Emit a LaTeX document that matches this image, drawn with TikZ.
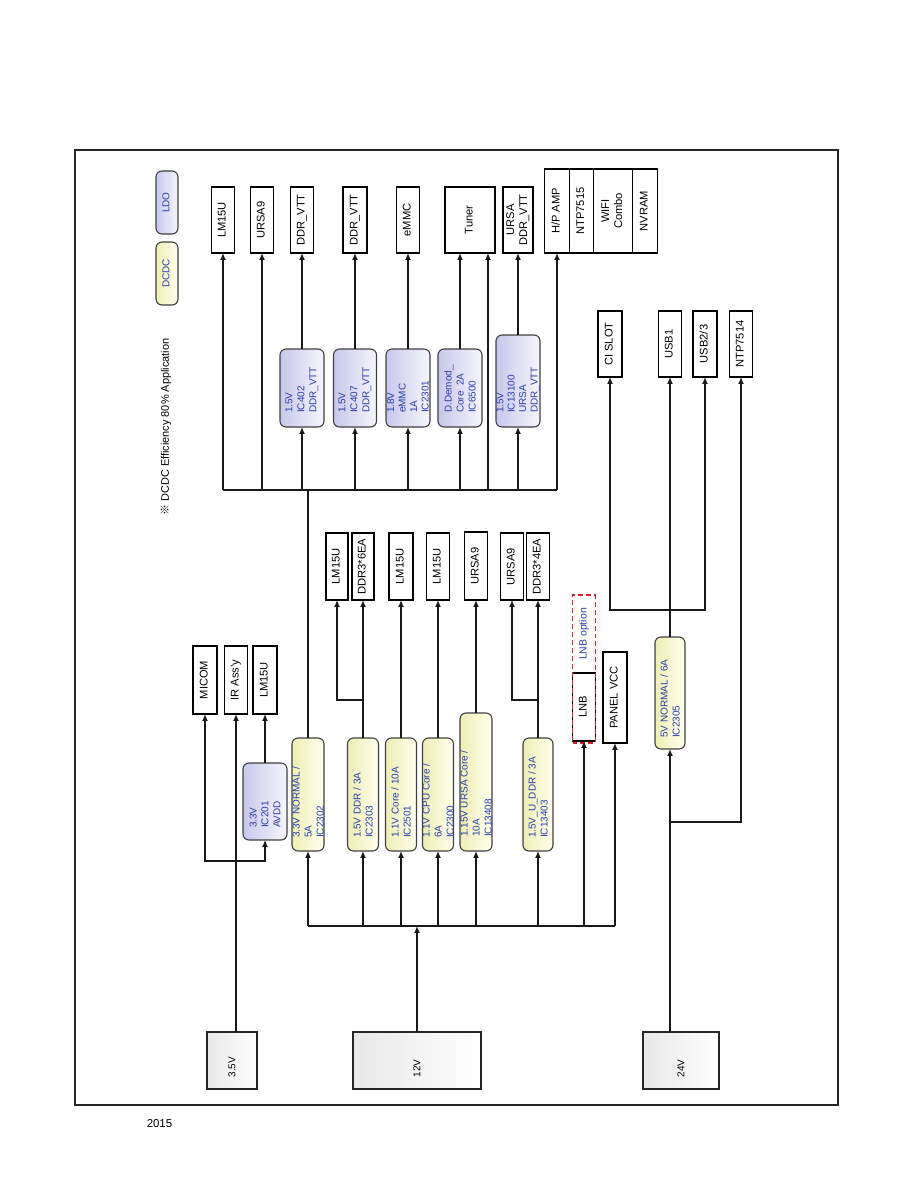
\documentclass[tikz,border=0pt]{standalone}
\usepackage{fontspec}
\setmainfont{Liberation Sans}
\newfontfamily\cjkf{Noto Sans CJK SC}
\usepackage{graphicx}
\usetikzlibrary{arrows.meta}
\definecolor{txtblue}{RGB}{40,60,170}
\definecolor{dcl}{RGB}{238,238,182}
\definecolor{dcr}{RGB}{255,255,238}
\definecolor{ldl}{RGB}{200,200,236}
\definecolor{ldr}{RGB}{246,246,253}
\definecolor{optred}{RGB}{225,30,40}
\newcommand\rt[1]{\makebox[0pt]{\rotatebox{90}{\begin{tabular}{@{}c@{}}#1\end{tabular}}}}
\newcommand\rl[2]{\makebox[0pt]{\rotatebox{90}{\parbox{#1pt}{\raggedright #2}}}}
\tikzset{
  bx/.style={draw=black, line width=1.1bp, fill=white, inner sep=0pt, outer sep=0pt,
    font=\fontsize{11.2}{13}\selectfont},
  dc/.style={draw=black!75, line width=1.1bp, rounded corners=6pt, left color=dcl, right color=dcr,
    inner sep=0pt, outer sep=0pt, text=txtblue, font=\fontsize{10}{12}\selectfont},
  ld/.style={draw=black!75, line width=1.1bp, rounded corners=6pt, left color=ldl, right color=ldr,
    inner sep=0pt, outer sep=0pt, text=txtblue, font=\fontsize{10}{12}\selectfont},
  pw/.style={draw=black!85, line width=2bp, left color=black!9, right color=white,
    inner sep=0pt, outer sep=0pt, font=\fontsize{10}{12}\selectfont},
  optbox/.style={draw=optred, line width=1.6bp, dash pattern=on 5pt off 3pt, inner sep=0pt, outer sep=0pt},
  bluetxt/.style={text=txtblue, font=\fontsize{10.5}{12}\selectfont, inner sep=0pt},
  ln/.style={line width=1.8bp, draw=black!90},
  arr/.style={line width=1.8bp, draw=black!90, -{Latex[length=7pt,width=6pt]}},
  frame/.style={draw=black!85, line width=1.1bp}
}
\begin{document}
\begin{tikzpicture}[x=1bp,y=-1bp]
\useasboundingbox (0,0) rectangle (914,1191);
\draw[frame] (75,150) rectangle (838,1105);
\node[font=\fontsize{11.5}{13}\selectfont, inner sep=0pt] (yr) at (159.5,1124) {2015};

% legend
\node[ld, minimum width=22bp, minimum height=63bp] (lgldo) at (167,202.5) {\rt{LDO}};
\node[dc, minimum width=22bp, minimum height=63bp] (lgdc) at (167,273.5) {\rt{DCDC}};
\node[inner sep=0pt, font=\fontsize{11}{13}\selectfont] (eff) at (166,427)
  {\rotatebox{90}{{\cjkf ※} DCDC Efficiency 80\% Application}};

% top row loads
\node[bx, minimum width=23bp, minimum height=66bp] (t1) at (223,220) {\rt{LM15U}};
\node[bx, minimum width=23bp, minimum height=66bp] (t2) at (262,220) {\rt{URSA9}};
\node[bx, minimum width=23bp, minimum height=66bp] (t3) at (302,220) {\rt{DDR\_VTT}};
\node[bx, minimum width=24bp, minimum height=66bp] (t4) at (355,220) {\rt{DDR\_VTT}};
\node[bx, minimum width=23bp, minimum height=66bp] (t5) at (408,220) {\rt{eMMC}};
\node[bx, minimum width=50bp, minimum height=66bp] (t6) at (470,220) {\rt{Tuner}};
\node[bx, minimum width=30bp, minimum height=66bp] (t7) at (518,220) {\rt{URSA\\DDR\_VTT}};
\node[bx, minimum width=25bp, minimum height=84bp] (hp) at (557,211) {\rt{H/P AMP}};
\node[bx, minimum width=24bp, minimum height=84bp] (ntp5) at (581.5,211) {\rt{NTP7515}};
\node[bx, minimum width=39bp, minimum height=84bp] (wifi) at (613,211) {\rt{WIFI\\Combo}};
\node[bx, minimum width=25bp, minimum height=84bp] (nvram) at (645,211) {\rt{NVRAM}};
\draw[line width=1.8bp] (hp.north west) rectangle (nvram.south east);

% LDO row
\node[ld, minimum width=44bp, minimum height=78bp] (l1) at (302,388) {\rl{50}{1.5V\\IC402\\DDR\_VTT}};
\node[ld, minimum width=43bp, minimum height=78bp] (l2) at (355,388) {\rl{50}{1.5V\\IC407\\DDR\_VTT}};
\node[ld, minimum width=44bp, minimum height=78bp] (l3) at (408,388) {\fontsize{10}{11.5}\selectfont\rl{50}{1.8V\\eMMC\\1A\\IC2301}};
\node[ld, minimum width=44bp, minimum height=78bp] (l4) at (460,388) {\rl{50}{D.Demod\_\\Core~~2A\\IC6500}};
\node[ld, minimum width=44bp, minimum height=92bp] (l5) at (518,381) {\fontsize{10}{11.5}\selectfont\rl{64}{1.5V\\IC13100\\URSA\\DDR\_VTT}};

% left side loads
\node[bx, minimum width=24bp, minimum height=68bp] (m1) at (205,680) {\rt{MICOM}};
\node[bx, minimum width=23bp, minimum height=68bp] (m2) at (236,680) {\rt{IR Ass'y}};
\node[bx, minimum width=24bp, minimum height=68bp] (m3) at (265,680) {\rt{LM15U}};
\node[ld, minimum width=44bp, minimum height=77bp] (ic201) at (265,801.5) {\rl{53}{3.3V\\IC201\\AVDD}};

% DCDC row
\node[dc, minimum width=32bp, minimum height=113bp] (d1) at (308,794.5) {\rl{87}{3.3V NORMAL /\\5A\\IC2302}};
\node[dc, minimum width=31bp, minimum height=113bp] (d2) at (363,794.5) {\rl{87}{1.5V DDR / 3A\\IC2303}};
\node[dc, minimum width=31bp, minimum height=113bp] (d3) at (401,794.5) {\rl{87}{1.1V Core / 10A\\IC2501}};
\node[dc, minimum width=31bp, minimum height=113bp] (d4) at (438,794.5) {\rl{87}{1.1V CPU Core /\\6A\\IC2300}};
\node[dc, minimum width=32bp, minimum height=138bp] (d5) at (476,782) {\rl{110}{1.15V URSA Core /\\10A\\IC13408}};
\node[dc, minimum width=30bp, minimum height=113bp] (d6) at (538,794.5) {\rl{87}{1.5V\_U\_DDR / 3A\\IC13403}};
\node[bx, minimum width=23bp, minimum height=68bp] (lnb) at (584,707) {\rt{LNB}};
\node[bx, minimum width=24bp, minimum height=91bp] (pvcc) at (615,697.5) {\rt{PANEL VCC}};
\node[dc, minimum width=30bp, minimum height=112bp] (d7) at (670,693) {\rl{90}{5V NORMAL / 6A\\IC2305}};
\node[optbox, minimum width=23bp, minimum height=148bp] (lnbopt) at (584,669) {};
\node[bluetxt] (lnbtxt) at (584,634) {\rotatebox{90}{LNB option}};

% DCDC outputs
\node[bx, minimum width=22bp, minimum height=67bp] (o1) at (337,566.5) {\rt{LM15U}};
\node[bx, minimum width=22bp, minimum height=67bp] (o2) at (363,566.5) {\rt{DDR3*6EA}};
\node[bx, minimum width=24bp, minimum height=67bp] (o3) at (401,566.5) {\rt{LM15U}};
\node[bx, minimum width=23bp, minimum height=67bp] (o4) at (438,566.5) {\rt{LM15U}};
\node[bx, minimum width=23bp, minimum height=68bp] (o5) at (476,566) {\rt{URSA9}};
\node[bx, minimum width=23bp, minimum height=67bp] (o6) at (512,566.5) {\rt{URSA9}};
\node[bx, minimum width=23bp, minimum height=67bp] (o7) at (538,566.5) {\rt{DDR3*4EA}};

% right side loads
\node[bx, minimum width=24bp, minimum height=66bp] (ci) at (610,344) {\rt{CI SLOT}};
\node[bx, minimum width=23bp, minimum height=66bp] (usb1) at (670,344) {\rt{USB1}};
\node[bx, minimum width=24bp, minimum height=66bp] (usb23) at (705,344) {\rt{USB2/3}};
\node[bx, minimum width=23bp, minimum height=66bp] (ntp4) at (741,344) {\rt{NTP7514}};

% power inputs
\node[pw, minimum width=50bp, minimum height=57bp] (p1) at (232,1060.5) {\rl{34}{3.5V}};
\node[pw, minimum width=128bp, minimum height=57bp] (p2) at (417,1060.5) {\rl{34}{12V}};
\node[pw, minimum width=76bp, minimum height=57bp] (p3) at (681,1060.5) {\rl{34}{24V}};

% ---- connectors ----
\coordinate (b1) at (0,490);
\coordinate (b2) at (0,926);
\coordinate (j2) at (0,700);
% upper bus from 3.3V NORMAL
\draw[ln] (t1.south |- b1) -- (hp.south |- b1);
\draw[ln] (d1.north) -- (d1.north |- b1);
\draw[arr] (t1.south |- b1) -- (t1.south);
\draw[arr] (t2.south |- b1) -- (t2.south);
\draw[arr] (l1.south |- b1) -- (l1.south);
\draw[arr] (l1.north) -- (t3.south);
\draw[arr] (l2.south |- b1) -- (l2.south);
\draw[arr] (l2.north) -- (t4.south);
\draw[arr] (l3.south |- b1) -- (l3.south);
\draw[arr] (l3.north) -- (t5.south);
\draw[arr] (l4.south |- b1) -- (l4.south);
\draw[arr] (l4.north) -- (l4.north |- t6.south);
\coordinate (t6b) at ([xshift=18bp]t6.south);
\draw[arr] (t6b |- b1) -- (t6b);
\draw[arr] (l5.south |- b1) -- (l5.south);
\draw[arr] (l5.north) -- (t7.south);
\draw[arr] (hp.south |- b1) -- (hp.south);

% 3.5V
\draw[arr] (p1.north -| m2.south) -- (m2.south);
\coordinate (j1) at (236,861);
\draw[arr] (j1) -| (m1.south);
\draw[arr] (j1) -| (ic201.south);
\draw[arr] (ic201.north) -- (m3.south);

% 12V
\draw[arr] (p2.north) -- (p2.north |- b2);
\draw[ln] (d1.south |- b2) -- (pvcc.south |- b2);
\draw[arr] (d1.south |- b2) -- (d1.south);
\draw[arr] (d2.south |- b2) -- (d2.south);
\draw[arr] (d3.south |- b2) -- (d3.south);
\draw[arr] (d4.south |- b2) -- (d4.south);
\draw[arr] (d5.south |- b2) -- (d5.south);
\draw[arr] (d6.south |- b2) -- (d6.south);
\draw[arr] (lnb.south |- b2) -- (lnb.south);
\draw[arr] (pvcc.south |- b2) -- (pvcc.south);

% DCDC outputs
\draw[arr] (d2.north) -- (o2.south);
\draw[arr] (o2.south |- j2) -| (o1.south);
\draw[arr] (d3.north) -- (o3.south);
\draw[arr] (d4.north) -- (o4.south);
\draw[arr] (d5.north) -- (o5.south);
\draw[arr] (d6.north) -- (o7.south);
\draw[arr] (o7.south |- j2) -| (o6.south);

% 24V
\draw[arr] (p3.north -| d7.south) -- (d7.south);
\coordinate (j3) at (670,822);
\draw[arr] (j3) -| (ntp4.south);
\draw[arr] (d7.north) -- (usb1.south);
\coordinate (j4) at (670,610);
\draw[arr] (j4) -| (ci.south);
\draw[arr] (j4) -| (usb23.south);
\end{tikzpicture}
\end{document}
